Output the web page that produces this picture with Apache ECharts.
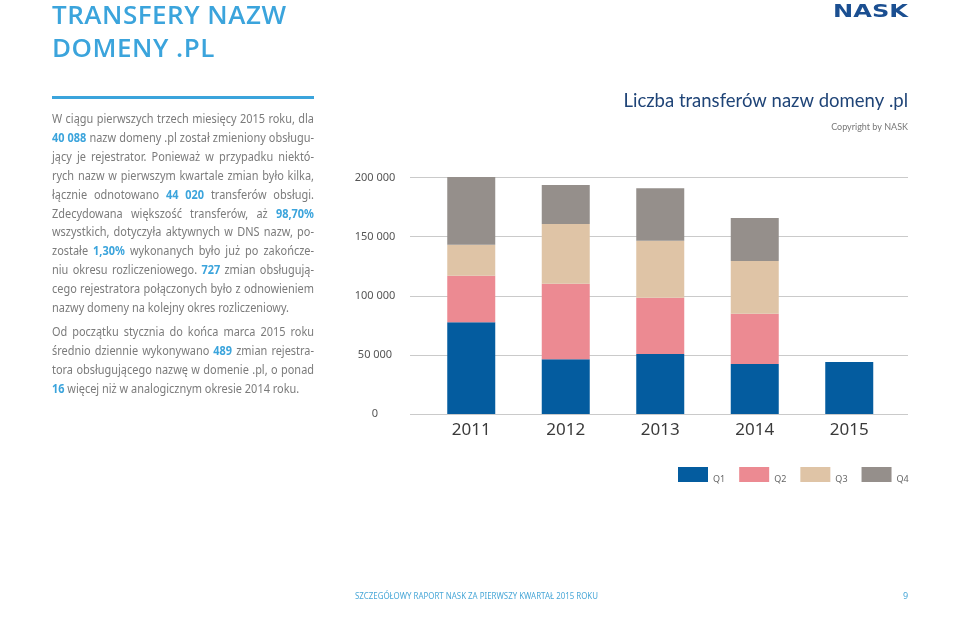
<!DOCTYPE html>
<html><head><meta charset="utf-8">
<script src="https://cdn.jsdelivr.net/npm/echarts@6/dist/echarts.min.js"></script>
<style>
html,body{margin:0;padding:0;background:#fff;width:960px;height:620px;overflow:hidden;}
#chart{position:absolute;left:0;top:0;width:960px;height:620px;}
.abs{position:absolute;}
#title{left:52px;top:-2px;color:#3ba4dc;font-family:"Open Sans";font-weight:600;font-size:26px;line-height:33px;white-space:nowrap;}
#title div{display:inline-block;}
#rule{left:52px;top:96px;width:262px;height:3px;background:#3ba4dc;}
#logo{left:833px;top:1px;color:#1b4f91;font-family:"DejaVu Sans";font-weight:bold;font-size:18px;line-height:20px;transform-origin:0 0;white-space:nowrap;}
#text{left:52px;top:109px;font-family:"Noto Sans";font-size:13px;line-height:18.9px;color:#7b7b7b;transform-origin:0 0;}
#text .l{white-space:nowrap;}
#text.j .l{text-align:justify;text-align-last:justify;}
#text.j .l.e{text-align-last:left;}
#text b{color:#3ba4dc;font-weight:700;}
#text .gap{height:5px;}
#footer{left:355px;top:590px;font-family:"Noto Sans";font-size:9px;line-height:12px;color:#4aa8d8;transform-origin:0 0;white-space:nowrap;}
#page{left:903px;top:590px;font-family:"Noto Sans";font-size:9px;line-height:12px;color:#4aa8d8;}
</style>
</head><body>
<div id="chart"></div>
<div id="title" class="abs"><div id="t1">TRANSFERY NAZW</div><br><div id="t2">DOMENY .PL</div></div>
<div id="rule" class="abs"></div>
<div id="logo" class="abs">NASK</div>
<div id="text" class="abs">
<div class="l"><span>W ciągu pierwszych trzech miesięcy 2015 roku, dla</span></div>
<div class="l"><span><b>40 088</b> nazw domeny .pl został zmieniony obsługu-</span></div>
<div class="l"><span>jący je rejestrator. Ponieważ w przypadku niektó-</span></div>
<div class="l"><span>rych nazw w pierwszym kwartale zmian było kilka,</span></div>
<div class="l"><span>łącznie odnotowano <b>44 020</b> transferów obsługi.</span></div>
<div class="l"><span>Zdecydowana większość transferów, aż <b>98,70%</b></span></div>
<div class="l"><span>wszystkich, dotyczyła aktywnych w DNS nazw, po-</span></div>
<div class="l"><span>zostałe <b>1,30%</b> wykonanych było już po zakończe-</span></div>
<div class="l"><span>niu okresu rozliczeniowego. <b>727</b> zmian obsługują-</span></div>
<div class="l"><span>cego rejestratora połączonych było z odnowieniem</span></div>
<div class="l e"><span id="ref">nazwy domeny na kolejny okres rozliczeniowy.</span></div>
<div class="gap"></div>
<div class="l"><span>Od początku stycznia do końca marca 2015 roku</span></div>
<div class="l"><span>średnio dziennie wykonywano <b>489</b> zmian rejestra-</span></div>
<div class="l"><span>tora obsługującego nazwę w domenie .pl, o ponad</span></div>
<div class="l e"><span><b>16</b> więcej niż w analogicznym okresie 2014 roku.</span></div>
</div>
<div id="footer" class="abs">SZCZEGÓŁOWY RAPORT NASK ZA PIERWSZY KWARTAŁ 2015 ROKU</div>
<div id="page" class="abs">9</div>
<script>
const years = ['2011', '2012', '2013', '2014', '2015'];
const q1 = [77700, 46350, 50850, 42400, 44020];
const q2 = [39250, 63850, 47450, 42350, null];
const q3 = [26250, 50550, 48300, 44650, null];
const q4 = [57400, 33050, 44350, 36450, null];
const seriesNames = ['Q1', 'Q2', 'Q3', 'Q4'];
const colors = ['#045c9f', '#ec8a92', '#dfc4a6', '#958f8b'];

// text fitting (layout only)
(function(){
  const text = document.getElementById('text');
  const w = document.getElementById('ref').getBoundingClientRect().width;
  const s = 237 / w;
  text.style.width = (262 / s) + 'px';
  text.style.transform = 'scaleX(' + s + ')';
  text.classList.add('j');
  const t1 = document.getElementById('t1');
  const tw = t1.getBoundingClientRect().width;
  const ls = (234 - tw) / 13;
  document.getElementById('title').style.letterSpacing = ls + 'px';
  const f = document.getElementById('footer');
  f.style.transform = 'scaleX(' + (243 / f.getBoundingClientRect().width) + ')';
  const lg = document.getElementById('logo');
  lg.style.transform = 'scaleX(' + (75 / lg.getBoundingClientRect().width) + ')';
})();

const fmt = v => String(v).replace(/\B(?=(\d{3})+(?!\d))/g, ' ');
const chart = echarts.init(document.getElementById('chart'));
chart.setOption({
  animation: false,
  title: [
    {text: 'Liczba transferów nazw domeny .pl', right: 52, top: 92, padding: 0,
     textStyle: {fontSize: 18.5, color: '#1f4477', fontWeight: 'normal', fontFamily: 'Lato'}},
    {text: 'Copyright by NASK', right: 52, top: 123, padding: 0,
     textStyle: {fontSize: 9, color: '#777', fontWeight: 'normal', fontFamily: 'Lato'}}
  ],
  legend: {
    data: seriesNames, left: 678, top: 467, padding: 0, itemWidth: 30, itemHeight: 15, itemGap: 14, icon: 'rect',
    formatter: '{a|{name}}',
    textStyle: {fontSize: 9, color: '#666', fontFamily: 'Noto Sans',
      rich: {a: {fontSize: 9, color: '#666', fontFamily: 'Noto Sans', padding: [10, 0, 0, 0]}}}
  },
  grid: [
    {left: 424, right: 63.5, top: 177.6, bottom: 206},
    {left: 410, right: 52, top: 177.6, bottom: 206}
  ],
  xAxis: [
    {type: 'category', gridIndex: 0, data: years, axisLine: {show: false}, axisTick: {show: false},
     axisLabel: {fontSize: 17, color: '#3a3a3a', margin: 8, fontFamily: 'Noto Sans'}},
    {type: 'value', gridIndex: 1, show: false, min: 0, max: 1}
  ],
  yAxis: [
    {type: 'value', gridIndex: 0, min: 0, max: 200000, interval: 50000, show: false},
    {type: 'value', gridIndex: 1, min: 0, max: 200000, interval: 50000,
     splitLine: {lineStyle: {color: '#cacaca'}}, axisLine: {show: false}, axisTick: {show: false},
     axisLabel: {align: 'center', margin: 35, fontSize: 11, color: '#555', fontFamily: 'Noto Sans',
       padding: [0, 0, 4, 0], formatter: fmt}}
  ],
  series: [q1, q2, q3, q4].map((d, i) => ({
    name: seriesNames[i], type: 'bar', stack: 'all', data: d, barWidth: 48, clip: false,
    xAxisIndex: 0, yAxisIndex: 0, itemStyle: {color: colors[i]}
  }))
});
</script>
</body></html>
